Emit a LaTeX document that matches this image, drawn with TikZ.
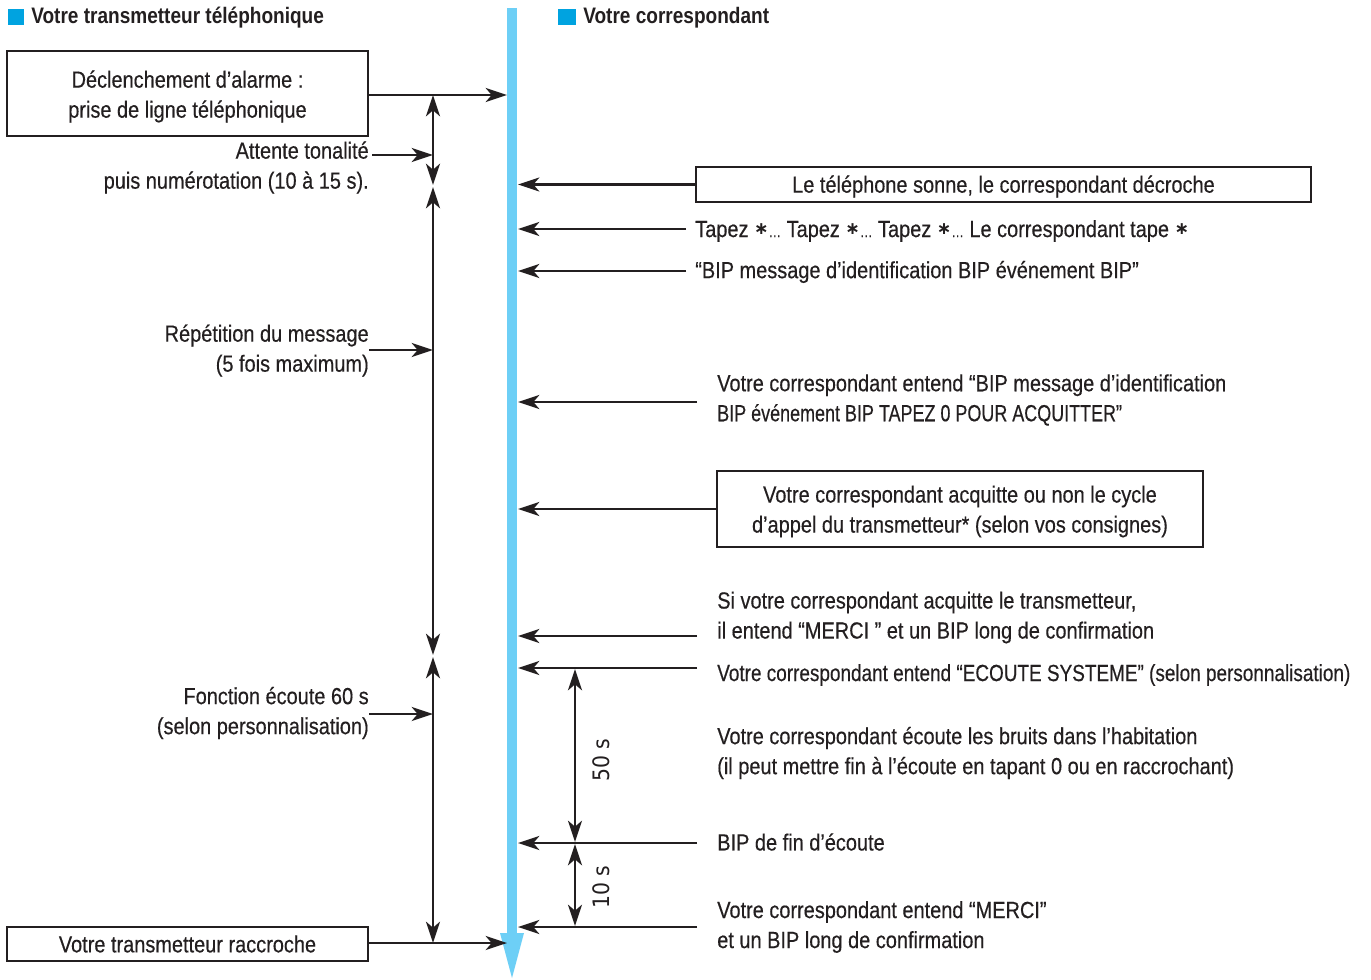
\documentclass[tikz,border=0pt]{standalone}
\usepackage{fontspec}
\setmainfont{Liberation Sans}[FakeStretch=0.855,FakeBold=0.35]
\newfontfamily\hdrfont{Liberation Sans Bold}[FakeStretch=0.85]
\newfontfamily\dejavu{DejaVu Sans}[FakeStretch=0.9]
\newfontfamily\dejavustar{DejaVu Sans Bold}
\usetikzlibrary{arrows.meta}
\definecolor{ink}{HTML}{231F20}
\definecolor{barblue}{HTML}{6DCFF6}
\definecolor{headblue}{HTML}{00A3E0}
\newcommand{\stx}{\raisebox{1.6pt}{\dejavustar\fontsize{13}{13}\selectfont ∗}}
\newcommand{\dts}{{\fontsize{11}{11}\selectfont …}}
\tikzset{
  txt/.style={font=\fontsize{17.5}{22.5}\selectfont, text=ink, inner sep=0pt},
  hdr/.style={font=\hdrfont\fontsize{16.8}{22.5}\selectfont, text=ink, inner sep=0pt, anchor=west},
  boxnode/.style={draw=ink, line width=1pt, inner sep=0pt},
  tip/.tip={Stealth[length=16pt,width=10.5pt,inset=4.5pt]},
  arr/.style={draw=ink, line width=1.6pt, -tip},
  darr/.style={draw=ink, line width=1.6pt, tip-tip},
  dimlbl/.style={font=\dejavu\fontsize{17}{20}\selectfont, text=ink, inner sep=0pt, rotate=90},
}
\begin{document}
\begin{tikzpicture}[x=0.75pt,y=-0.75pt]
\fill[white] (0,0) rectangle (1371,979);
\useasboundingbox (0,0) rectangle (1371,979);

% headers
\fill[headblue] (8,9) rectangle (24,25);
\node[hdr] (hl) at (31,18) {Votre transmetteur téléphonique};
\fill[headblue] (558,9) rectangle (576,25);
\node[hdr] (hr) at (583,18) {Votre correspondant};

% timeline bar
\fill[barblue] (507,8) rectangle (517,936);
\fill[barblue] (500,933) -- (524,933) -- (512,978) -- cycle;
\coordinate (barL) at (507,0);
\coordinate (barR) at (518,0);

% left boxes
\node[boxnode, minimum width=270.75pt, minimum height=63.75pt] (b1) at (187.5,93.5) {};
\node[txt, align=center] (b1t) at ([yshift=-2.25pt]b1.center) {Déclenchement d’alarme :\\prise de ligne téléphonique};
\node[boxnode, minimum width=270.75pt, minimum height=25.5pt] (b2) at (187.5,944) {};
\node[txt] (b2t) at (b2.center) {Votre transmetteur raccroche};
\coordinate (s1) at (368,95);
\coordinate (s2) at (368,943);
\draw[arr] (s1) -- (s1 -| barL);
\draw[arr] (s2) -- (s2 -| barL);

% left dimension line
\coordinate (d1) at (433,95);
\coordinate (d2) at (433,185);
\coordinate (d3) at (433,187);
\coordinate (d4) at (433,655);
\coordinate (d5) at (433,657);
\coordinate (d6) at (433,943);
\draw[darr] (d1) -- (d2);
\draw[darr] (d3) -- (d4);
\draw[darr] (d5) -- (d6);

% left labels
\node[txt, align=right, anchor=east] (l1) at (369,167.5) {Attente tonalité\\puis numérotation (10 à 15 s).};
\coordinate (la1) at (372,155);
\draw[arr] (la1) -- (la1 -| d1);
\node[txt, align=right, anchor=east] (l2) at (369,350.5) {Répétition du message\\(5 fois maximum)};
\coordinate (la2) at (369,350);
\draw[arr] (la2) -- (la2 -| d1);
\node[txt, align=right, anchor=east] (l3) at (369,713) {Fonction écoute 60 s\\(selon personnalisation)};
\coordinate (la3) at (369,714);
\draw[arr] (la3) -- (la3 -| d1);

% right side
\node[boxnode, minimum width=461.25pt, minimum height=26.25pt] (r1) at (1003.5,184.5) {};
\node[txt] (r1t) at ([yshift=-1.5pt]r1.center) {Le téléphone sonne, le correspondant décroche};
\draw[arr] (r1.west) -- (r1.west -| barR);

\node[txt, anchor=west] (r2) at (695,231) {Tapez \stx\dts\ Tapez \stx\dts\ Tapez \stx\dts\ Le correspondant tape \stx};
\coordinate (ra2) at (686,229);
\draw[arr] (ra2) -- (ra2 -| barR);

\node[txt, anchor=west] (r3) at (695,272) {“BIP message d’identification BIP événement BIP”};
\coordinate (ra3) at (686,271);
\draw[arr] (ra3) -- (ra3 -| barR);

\node[txt, anchor=west, align=left] (r4) at (717,400) {Votre correspondant entend “BIP message d’identification\\\scalebox{0.9}[1]{BIP événement BIP TAPEZ 0 POUR ACQUITTER”}};
\coordinate (ra4) at (697,402);
\draw[arr] (ra4) -- (ra4 -| barR);

\node[boxnode, minimum width=364.5pt, minimum height=57pt] (r5) at (960,509) {};
\node[txt, align=center] (r5t) at ([yshift=-1.9pt]r5.center) {Votre correspondant acquitte ou non le cycle\\d’appel du transmetteur* (selon vos consignes)};
\draw[arr] (r5.west) -- (r5.west -| barR);

\node[txt, anchor=west, align=left] (r6) at (717,617.5) {Si votre correspondant acquitte le transmetteur,\\il entend “MERCI ” et un BIP long de confirmation};
\coordinate (ra6) at (697,636);
\draw[arr] (ra6) -- (ra6 -| barR);

\node[txt, anchor=west] (r7) at (717,675) {\scalebox{0.95}[1]{Votre correspondant entend “ECOUTE SYSTEME” (selon personnalisation)}};
\coordinate (ra7) at (697,668);
\draw[arr] (ra7) -- (ra7 -| barR);

\node[txt, anchor=west, align=left] (r8) at (717,753) {Votre correspondant écoute les bruits dans l’habitation\\(il peut mettre fin à l’écoute en tapant 0 ou en raccrochant)};

\node[txt, anchor=west] (r9) at (717,842) {BIP de fin d’écoute};
\coordinate (ra9) at (697,843);
\draw[arr] (ra9) -- (ra9 -| barR);

\node[txt, anchor=west, align=left] (r10) at (717,927) {Votre correspondant entend “MERCI”\\et un BIP long de confirmation};
\coordinate (ra10) at (697,927);
\draw[arr] (ra10) -- (ra10 -| barR);

% right dimension lines
\coordinate (e1) at (575,669);
\coordinate (e2) at (575,842);
\coordinate (e3) at (575,844);
\coordinate (e4) at (575,926);
\draw[darr] (e1) -- (e2);
\draw[darr] (e3) -- (e4);
\node[dimlbl] (t50) at (601,760) {50 s};
\node[dimlbl] (t10) at (601,887) {10 s};
\end{tikzpicture}
\end{document}
